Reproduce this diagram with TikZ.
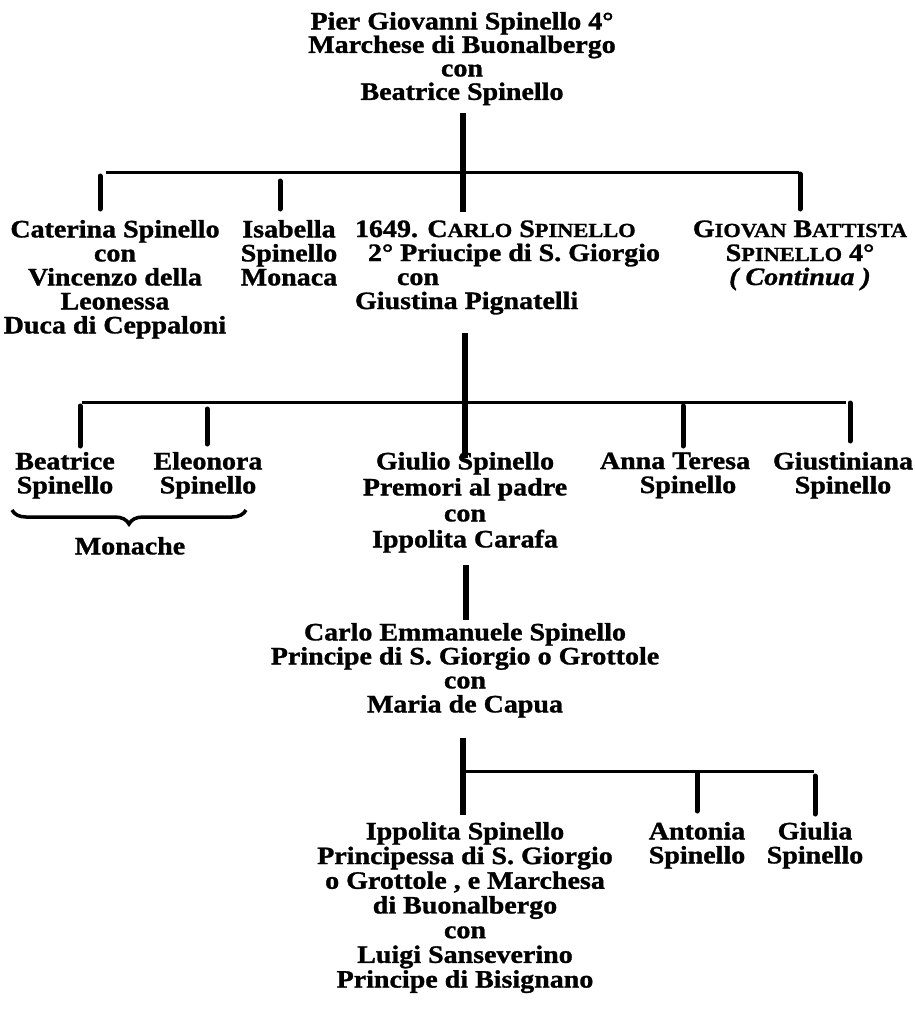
\documentclass[tikz,border=0pt]{standalone}
\usepackage{fontspec}
\setmainfont{Liberation Serif}[FakeStretch=1.12, BoldFeatures={FakeBold=1.2}, BoldItalicFeatures={FakeBold=1.2}]
\usetikzlibrary{decorations.pathreplacing}
\newcommand\smc[1]{{\fontsize{20}{20}\selectfont #1}}
\newcommand\fl{\rule{0pt}{17pt}}
\begin{document}
\begin{tikzpicture}[x=1pt,y=-1pt,
  txt/.style={inner sep=0pt, outer sep=0pt, align=center, anchor=north,
    font=\bfseries\fontsize{25}{24}\selectfont},
  trunk/.style={line width=6pt},
  bar/.style={line width=3pt},
  tick/.style={line width=5pt, line cap=round}]
\useasboundingbox[fill=white] (0,0) rectangle (915,1021);

% ---------- text blocks ----------
\node[txt, font=\bfseries\fontsize{25}{23.5}\selectfont] (title) at (462,12) {\fl Pier Giovanni Spinello 4°\\Marchese di Buonalbergo\\con\\Beatrice Spinello};

\node[txt] (caterina) at (115,220) {\fl Caterina Spinello\\con\\Vincenzo della\\Leonessa\\Duca di Ceppaloni};
\node[txt] (isabella) at (289,220) {\fl Isabella\\Spinello\\Monaca};
\node[txt, align=left, anchor=north west] (carlo) at (355,220) {\fl 1649. C\smc{ARLO} S\smc{PINELLO}\\\hspace*{13pt}2° Priucipe di S. Giorgio\\\hspace*{42pt}con\\Giustina Pignatelli};
\node[txt] (giovan) at (800,220) {\fl G\smc{IOVAN} B\smc{ATTISTA}\\S\smc{PINELLO} 4°\\{\itshape( Continua )}};

\node[txt] (beatrice) at (65,452) {\fl Beatrice\\Spinello};
\node[txt] (eleonora) at (208,452) {\fl Eleonora\\Spinello};
\node[txt, font=\bfseries\fontsize{25}{26}\selectfont] (giulio) at (465,452) {\fl Giulio Spinello\\Premori al padre\\con\\Ippolita Carafa};
\node[txt] (anna) at (675,452) {\fl Anna Teresa\\\hspace*{26pt}Spinello};
\node[txt] (giust) at (843,452) {\fl Giustiniana\\Spinello};
\node[txt] (monache) at (130,537) {\fl Monache};

\node[txt] (carloem) at (465,623) {\fl Carlo Emmanuele Spinello\\Principe di S. Giorgio o Grottole\\con\\Maria de Capua};

\node[txt, font=\bfseries\fontsize{25}{24.7}\selectfont] (ippolita) at (465,822) {\fl Ippolita Spinello\\Principessa di S. Giorgio\\o Grottole , e Marchesa\\di Buonalbergo\\con\\Luigi Sanseverino\\Principe di Bisignano};
\node[txt] (antonia) at (697,822) {\fl Antonia\\Spinello};
\node[txt] (giulia) at (815,822) {\fl Giulia\\Spinello};

% ---------- junction points ----------
\coordinate (a1) at (463,113); \coordinate (a2) at (463,212);
\coordinate (h1L) at (106,172); \coordinate (h1R) at (799,172);
\coordinate (k1a) at (100,176); \coordinate (k1b) at (100,209);
\coordinate (k2a) at (280,181); \coordinate (k2b) at (280,209);
\coordinate (k3a) at (800,174); \coordinate (k3b) at (800,209);

\coordinate (b1) at (465,333); \coordinate (b2) at (465,458);
\coordinate (h2L) at (82,402); \coordinate (h2R) at (846,402);
\coordinate (m1a) at (80,406); \coordinate (m1b) at (80,446);
\coordinate (m2a) at (207,409); \coordinate (m2b) at (207,444);
\coordinate (m3a) at (683,406); \coordinate (m3b) at (683,446);
\coordinate (m4a) at (850,403); \coordinate (m4b) at (850,441);

\coordinate (c1) at (466,565); \coordinate (c2) at (466,620);

\coordinate (d1) at (463,738); \coordinate (d2) at (463,815);
\coordinate (h4R) at (814,771);
\coordinate (n1a) at (697,773); \coordinate (n1b) at (697,811);
\coordinate (n2a) at (815,776); \coordinate (n2b) at (815,814);

\coordinate (brL) at (12,510); \coordinate (brR) at (246,510);

% ---------- connectors ----------
\draw[trunk] (a1) -- (a2);
\draw[bar] (h1L) -- (h1R);
\draw[tick] (k1a) -- (k1b);
\draw[tick] (k2a) -- (k2b);
\draw[tick] (k3a) -- (k3b);

\draw[trunk] (b1) -- (b2);
\draw[bar] (h2L) -- (h2R);
\draw[tick] (m1a) -- (m1b);
\draw[tick] (m2a) -- (m2b);
\draw[tick] (m3a) -- (m3b);
\draw[tick] (m4a) -- (m4b);

\draw[trunk] (c1) -- (c2);

\draw[trunk] (d1) -- (d2);
\draw[bar] (d1 |- h4R) -- (h4R);
\draw[tick] (n1a) -- (n1b);
\draw[tick] (n2a) -- (n2b);

\draw[line width=3.5pt, decorate, decoration={brace, mirror, amplitude=14pt}] (brL) -- (brR);
\end{tikzpicture}
\end{document}
